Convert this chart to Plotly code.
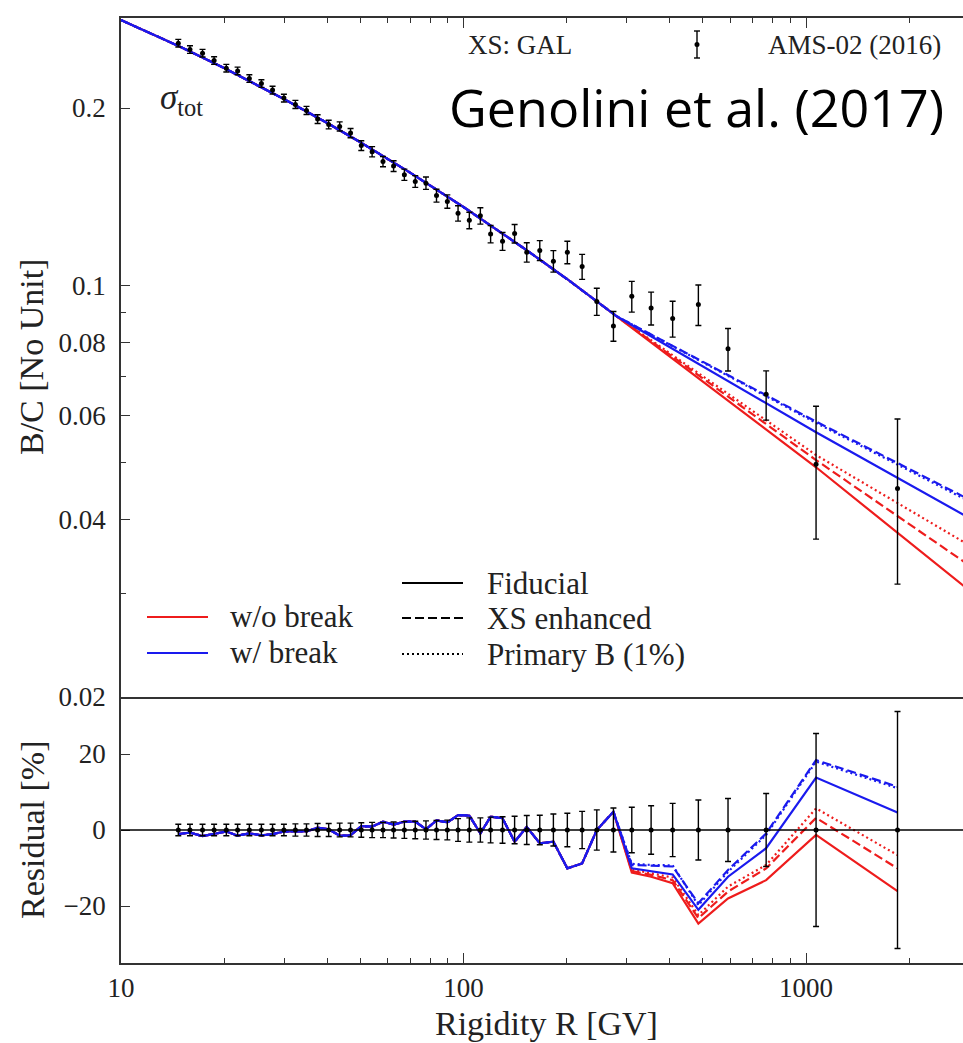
import plotly.graph_objects as go

# ---------------- data ----------------
R_data = [14.7, 15.9, 17.3, 18.7, 20.3, 21.9, 23.7, 25.7, 27.7, 29.9,
          32.3, 34.8, 37.5, 40.4, 43.5, 46.8, 50.3, 54.1, 58.2, 62.5,
          67.2, 72.3, 77.7, 83.4, 89.7, 96.4, 104, 112, 120, 130,
          141, 153, 167, 183, 201, 222, 245, 274, 310, 353,
          408, 485, 592, 765, 1070, 1850]
bc_data = [0.2577, 0.2514, 0.2478, 0.2408, 0.2337, 0.2312, 0.2244, 0.2201, 0.2145, 0.2079,
           0.2028, 0.1981, 0.1915, 0.1875, 0.1861, 0.1813, 0.1727, 0.1686, 0.1622, 0.1594,
           0.1541, 0.1501, 0.1491, 0.1420, 0.1388, 0.1325, 0.1289, 0.1312, 0.1222, 0.1188,
           0.1224, 0.1138, 0.1146, 0.1099, 0.1138, 0.1076, 0.0939, 0.0853, 0.0958, 0.0915,
           0.0878, 0.0928, 0.0780, 0.0653, 0.0497, 0.0452]
err_pct = [1.5, 1.5, 1.5, 1.5, 1.5, 1.5, 1.5, 1.5, 1.5, 1.5,
           1.6, 1.6, 1.7, 1.7, 1.8, 1.8, 1.9, 2.0, 2.0, 2.1,
           2.2, 2.3, 2.4, 2.5, 2.6, 3.0, 3.2, 3.2, 3.4, 3.5,
           3.6, 3.8, 3.9, 4.2, 4.4, 4.9, 5.3, 5.8, 6.0, 6.4,
           7.0, 7.9, 8.3, 9.6, 25.4, 31.2]

# model curves (top panel): common part, then the tails of each model
R_model = [10, 15, 20, 30, 40, 50, 70, 100, 150, 200, 250, 280]
bc_common = [0.2820, 0.2536, 0.2338, 0.2069, 0.1886, 0.1749, 0.1552, 0.1358,
             0.1156, 0.1026, 0.0931, 0.0886]
R_tail = [1070, 2900]
tail_red_fid = [0.0491, 0.0308]
tail_red_xs = [0.0505, 0.0339]
tail_red_pb = [0.0515, 0.0366]
tail_blue_fid = [0.0563, 0.0407]
tail_blue_xs = [0.0587, 0.0437]
tail_blue_pb = [0.0584, 0.0434]

# residuals [%] (bottom panel)
res_common = [-1.05, -0.7, -1.6, -1.0, -0.4, -1.5, -0.9, -1.4, -1.1, -0.4,
              -0.35, -0.4, 0.6, 0.2, -1.5, -1.4, 1.0, 0.9, 2.2, 1.4,
              2.2, 2.2, 0.2, 2.5, 2.0, 3.9, 3.8, -0.9, 3.5, 3.1,
              -3.1, 0.8, -3.5, -3.1, -10.1, -8.8, 0.0, 4.8]
res_red_fid = [-11.2, -12.3, -14.0, -24.6, -18.0, -13.2, -1.3, -16.1]
res_red_xs = [-10.8, -11.8, -13.2, -23.2, -16.2, -10.1, 3.2, -10.1]
res_red_pb = [-10.4, -11.3, -12.5, -22.4, -14.9, -9.2, 5.7, -6.6]
res_blue_fid = [-10.1, -10.8, -11.7, -21.0, -12.3, -4.8, 13.8, 4.6]
res_blue_xs = [-9.2, -9.4, -9.6, -19.3, -10.5, -0.9, 18.4, 11.4]
res_blue_pb = [-8.9, -9.2, -9.3, -19.8, -11.0, -1.3, 18.0, 11.0]

x_ticks = [10, 100, 1000]
x_minor = [20, 30, 40, 50, 60, 70, 80, 90, 200, 300, 400, 500, 600, 700, 800, 900, 2000]
y_ticks = [0.02, 0.04, 0.06, 0.08, 0.1, 0.2]
y_ticklabels = ["0.02", "0.04", "0.06", "0.08", "0.1", "0.2"]
y_minor = [0.03, 0.05, 0.07, 0.09]
res_ticks = [-20, 0, 20]

# ---------------- styling ----------------
RED = "#ee1c1c"
BLUE = "#1a1aee"
SERIF = "Liberation Serif, DejaVu Serif, serif"
TXT = "#222222"
W, H = 963, 1043
L, T, B = 121, 18, 80
PW, PH = W - L, H - T - B


def px(x):
    return (x - L) / PW


def py(y):
    return (H - B - y) / PH


fig = go.Figure()

models = [
    (tail_red_fid, res_red_fid, RED, "solid", "w/o break, Fiducial"),
    (tail_red_xs, res_red_xs, RED, "9px,4px", "w/o break, XS enhanced"),
    (tail_red_pb, res_red_pb, RED, "2px,3px", "w/o break, Primary B"),
    (tail_blue_fid, res_blue_fid, BLUE, "solid", "w/ break, Fiducial"),
    (tail_blue_xs, res_blue_xs, BLUE, "9px,4px", "w/ break, XS enhanced"),
    (tail_blue_pb, res_blue_pb, BLUE, "2px,3px", "w/ break, Primary B"),
]

for tail, res_tail, col, dash, name in models:
    fig.add_trace(go.Scatter(
        x=R_model + R_tail, y=bc_common + tail, mode="lines", name=name,
        line=dict(color=col, width=2.2, dash=dash), showlegend=False,
        xaxis="x", yaxis="y"))
for tail, res_tail, col, dash, name in models:
    fig.add_trace(go.Scatter(
        x=R_data, y=res_common + res_tail, mode="lines", name=name,
        line=dict(color=col, width=2.2, dash=dash), showlegend=False,
        xaxis="x2", yaxis="y2"))

err_abs = [v * e / 100 for v, e in zip(bc_data, err_pct)]
fig.add_trace(go.Scatter(
    x=R_data, y=bc_data, mode="markers", name="AMS-02 (2016)",
    marker=dict(color="black", size=5),
    error_y=dict(type="data", array=err_abs, visible=True, color="black",
                 thickness=1.4, width=3),
    showlegend=False, xaxis="x", yaxis="y"))
fig.add_trace(go.Scatter(
    x=R_data, y=[0] * len(R_data), mode="markers", name="AMS-02 residual",
    marker=dict(color="black", size=5),
    error_y=dict(type="data", array=err_pct, visible=True, color="black",
                 thickness=1.4, width=3),
    showlegend=False, xaxis="x2", yaxis="y2"))

tickfont = dict(family=SERIF, size=27, color=TXT)
split = (H - B - 697) / PH

xcommon = dict(type="log", range=[1, 1 + 842 / 342.5], showline=True,
               linecolor="#333", linewidth=1.5, ticks="inside",
               ticklen=10, tickwidth=1.3, tickcolor="#333", tickmode="array",
               tickvals=x_ticks, showgrid=False, zeroline=False,
               minor=dict(tickmode="array", tickvals=x_minor, ticks="inside",
                          ticklen=5, tickwidth=1, tickcolor="#333", showgrid=False))

fig.update_layout(
    width=W, height=H, plot_bgcolor="white", paper_bgcolor="white",
    margin=dict(l=L, r=0, t=T, b=B),
    showlegend=False,
    xaxis=dict(xcommon, domain=[0, 1], anchor="y", side="top", mirror=True,
               showticklabels=False),
    yaxis=dict(type="log", domain=[split, 1], anchor="x",
               range=[-1.69897, -0.69897 + 90 / 589], showline=True,
               linecolor="#333", linewidth=1.5, mirror=False, ticks="inside",
               ticklen=9, tickwidth=1.3, tickcolor="#333", tickmode="array",
               tickvals=y_ticks, ticktext=y_ticklabels, tickfont=tickfont,
               ticklabelstandoff=8, showgrid=False, zeroline=False,
               minor=dict(tickmode="array", tickvals=y_minor, ticks="inside",
                          ticklen=5, tickwidth=1, tickcolor="#333", showgrid=False)),
    xaxis2=dict(xcommon, domain=[0, 1], anchor="y2", side="bottom", mirror=False,
                tickfont=tickfont, ticktext=["10", "100", "1000"],
                ticklabelstandoff=0),
    yaxis2=dict(domain=[0, split], anchor="x2", range=[-35, 35], showline=True,
                linecolor="#333", linewidth=1.5, mirror=False, ticks="inside",
                ticklen=9, tickwidth=1.3, tickcolor="#333", tickmode="array",
                tickvals=res_ticks, tickfont=tickfont, ticklabelstandoff=8,
                showgrid=False, zeroline=False),
)

shapes = []
# zero line in residual panel
shapes.append(dict(type="line", xref="paper", yref="y2", x0=0, x1=1, y0=0, y1=0,
                   line=dict(color="black", width=1.5)))
# legend sample lines
for y, col, dash in [(617, RED, "solid"), (653, BLUE, "solid")]:
    shapes.append(dict(type="line", xref="paper", yref="paper", x0=px(147), x1=px(208),
                       y0=py(y), y1=py(y), line=dict(color=col, width=2.2, dash=dash)))
for y, dash in [(583, "solid"), (618, "9px,4px"), (654, "2px,3px")]:
    shapes.append(dict(type="line", xref="paper", yref="paper", x0=px(402), x1=px(463),
                       y0=py(y), y1=py(y), line=dict(color="black", width=2.2, dash=dash)))
# AMS-02 legend symbol (error bar)
shapes.append(dict(type="line", xref="paper", yref="paper", x0=px(697), x1=px(697),
                   y0=py(31), y1=py(58), line=dict(color="black", width=1.4)))
for yy in (31, 58):
    shapes.append(dict(type="line", xref="paper", yref="paper", x0=px(694), x1=px(700),
                       y0=py(yy), y1=py(yy), line=dict(color="black", width=1.4)))
shapes.append(dict(type="circle", xref="paper", yref="paper", x0=px(694.5), x1=px(699.5),
                   y0=py(42), y1=py(47), fillcolor="black", line=dict(color="black", width=0)))
fig.update_layout(shapes=shapes)

ann = []


def text(x, y, s, size, family=SERIF, color=TXT, xanchor="left", angle=0):
    ann.append(dict(x=px(x), y=py(y), xref="paper", yref="paper", text=s,
                    showarrow=False, xanchor=xanchor, yanchor="middle",
                    textangle=angle, font=dict(family=family, size=size, color=color)))


text(228, 616, "w/o break", 31)
text(228, 652, "w/ break", 31)
text(485, 583, "Fiducial", 31)
text(485, 618, "XS enhanced", 31)
text(485, 654, "Primary B (1%)", 31)
text(466, 45, "XS: GAL", 27)
text(766, 45, "AMS-02 (2016)", 27)
text(158, 100, "<i>σ</i><sub>tot</sub>", 35)
text(447, 106, "Genolini et al. (2017)", 52, family="Open Sans", color="black")
text(546, 1024, "Rigidity R [GV]", 34, xanchor="center")
text(32, 357, "B/C [No Unit]", 34, xanchor="center", angle=-90)
text(32, 830, "Residual [%]", 34, xanchor="center", angle=-90)
fig.update_layout(annotations=ann)

fig.write_html("out.html")
